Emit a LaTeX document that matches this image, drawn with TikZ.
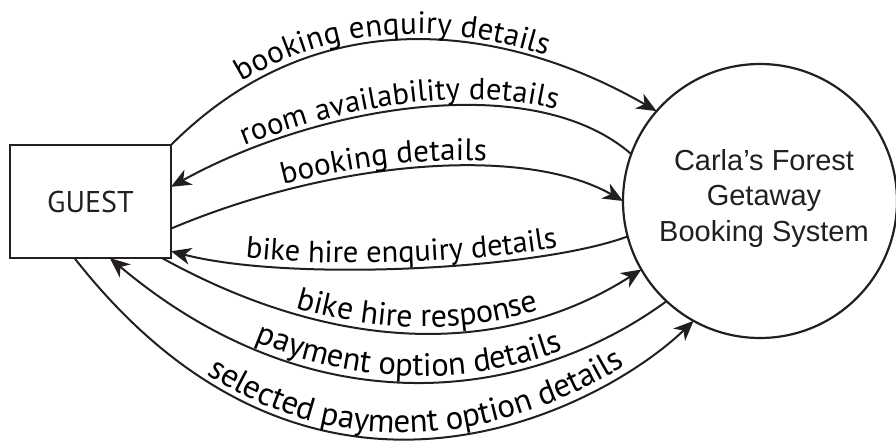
\documentclass[tikz,border=0pt]{standalone}
\usepackage{fontspec}
\setmainfont{Liberation Sans}
\newfontfamily\ptsans{PT Sans}
\usetikzlibrary{arrows.meta,decorations.text,calc}
\definecolor{ink}{RGB}{35,31,32}
\newcommand\lblfont[1]{\ptsans\fontsize{#1}{34}\selectfont}
\tikzset{
  flow/.style={line width=2pt, draw=ink},
  tipend/.style={-{Stealth[length=20pt,width=17pt,inset=6pt]}},
  tipstart/.style={{Stealth[length=20pt,width=17pt,inset=6pt]}-},
  lbl/.style n args={3}{decorate, decoration={text along path, text={|\lblfont{#2}|#3}, raise=6pt, text align={left, left indent=#1}}},
  entity/.style={draw=ink, line width=2.2pt, rectangle, minimum width=161pt, minimum height=113pt, inner sep=0pt, outer sep=0pt, font=\ptsans\fontsize{30}{36}\selectfont},
  process/.style={draw=ink, line width=2.2pt, circle, minimum size=274pt, inner sep=0pt, outer sep=0pt},
  proctext/.style={align=center, font=\fontsize{29}{35.5}\selectfont}
}
\begin{document}
\begin{tikzpicture}[x=1pt,y=-1pt,color=ink]
\useasboundingbox (0,0) rectangle (896,442);
\node[entity] (guest) at (90.5,201.5) {GUEST};
\node[process] (sys) at (760,201) {};
\node[proctext] (systext) at (764,198) {Carla’s Forest\\Getaway\\Booking System};
\coordinate (g2) at ($(guest.north east)!0.37!(guest.south east)$);
\coordinate (g3) at ($(guest.north east)!0.74!(guest.south east)$);
\coordinate (g4) at ($(guest.north east)!0.94!(guest.south east)$);
\coordinate (g5) at ($(guest.south west)!0.944!(guest.south east)$);
\coordinate (g6) at ($(guest.south west)!0.62!(guest.south east)$);
\coordinate (g7) at ($(guest.south west)!0.40!(guest.south east)$);
% 1
\draw[flow,tipend] (guest.north east) .. controls (326,-10) and (518,31) .. (sys.139);
\path[lbl={94pt}{31}{booking enquiry details}] (guest.north east) .. controls (326,-10) and (518,31) .. (sys.139);
% 2
\draw[flow,tipstart] (g2) .. controls (319,105) and (534,69) .. (sys.160);
\path[lbl={84pt}{30.5}{room availability details}] (g2) .. controls (319,105) and (534,69) .. (sys.160);
% 3
\draw[flow,tipend] (g3) .. controls (331,161) and (523,144) .. (sys.180);
\path[lbl={120pt}{31}{booking details}] (g3) .. controls (331,161) and (523,144) .. (sys.180);
% 4
\draw[flow,tipstart] (g4) .. controls (289,282) and (537,270) .. (sys.195);
\path[lbl={75pt}{30.5}{bike hire enquiry details}] (g4) .. controls (289,282) and (537,270) .. (sys.195);
% 5
\draw[flow,tipend] (g5) .. controls (343,358) and (509,354) .. (sys.210);
\path[lbl={144pt}{32}{bike hire response}] (g5) .. controls (343,358) and (509,354) .. (sys.210);
% 6
\draw[flow,tipstart] (g6) .. controls (311,427) and (524,405) .. (sys.227);
\path[lbl={169pt}{32.5}{payment option details}] (g6) .. controls (311,427) and (524,405) .. (sys.227);
% 7
\draw[flow,tipend] (g7) .. controls (314,564) and (603,408) .. (sys.241);
\path[lbl={178pt}{32.8}{selected payment option details}] (g7) .. controls (314,564) and (603,408) .. (sys.241);
\end{tikzpicture}
\end{document}
